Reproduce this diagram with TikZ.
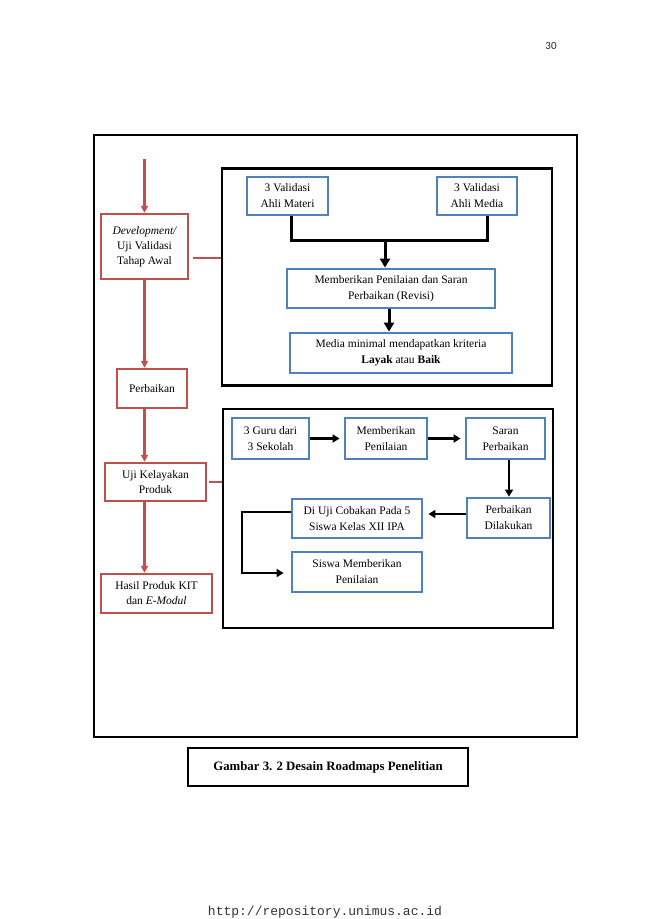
\documentclass[tikz,border=0pt]{standalone}
\usepackage{fontspec}
\setmainfont{Liberation Serif}
\newfontfamily\pgnum{Carlito}
\newfontfamily\footmono{Liberation Mono}
\usetikzlibrary{arrows.meta}
\definecolor{wred}{RGB}{192,80,77}
\definecolor{wblue}{RGB}{79,129,189}
\tikzset{
  redbox/.style={draw=wred, line width=2.4pt, inner sep=0pt, align=center,
    font=\fontsize{11.5}{15}\selectfont},
  bluebox/.style={draw=wblue, line width=2.8pt, inner sep=0pt, align=center,
    font=\fontsize{11.5}{16}\selectfont},
  frame/.style={draw=black, line width=2.4pt},
  redarrow/.style={draw=wred, line width=2.2pt, -{Triangle[length=7pt,width=7pt]}},
  redline/.style={draw=wred, line width=2.2pt},
  blkline/.style={draw=black, line width=3pt},
  blkarrow/.style={draw=black, line width=3pt, -{Triangle[length=9pt,width=10pt]}},
  blkarrowsm/.style={draw=black, line width=2.4pt, -{Triangle[length=7pt,width=8pt]}}
}
\begin{document}
\begin{tikzpicture}[x=1pt,y=-1pt]
\useasboundingbox (0,0) rectangle (650,919);
\fill[white] (0,0) rectangle (650,919);

% page number and footer
\node (pg) at (551,46) {\pgnum\fontsize{11}{12}\selectfont\color{black!85}30};
\node (foot) at (325,912) {\footmono\fontsize{13}{14}\selectfont\color{black!80}http://repository.unimus.ac.id};

% outer frame
\node[frame, minimum width=483pt, minimum height=602pt, inner sep=0pt] (outer) at (335.5,436) {};
% caption
\node[frame, minimum width=280pt, minimum height=38pt, inner sep=0pt,
  font=\fontsize{12.8}{14}\selectfont\bfseries] (cap) at (328,767) {Gambar 3. 2 Desain Roadmaps Penelitian};

% upper and lower black boxes
\node[frame, minimum width=330pt, minimum height=217pt, inner sep=0pt] (up) at (387,277) {};
\node[frame, minimum width=330pt, minimum height=219pt, inner sep=0pt] (low) at (388,518.5) {};

% red column
\coordinate (top) at (144.5,159);
\node[redbox, minimum width=87pt, minimum height=65pt] (dev) at (144.5,246.5)
  {\itshape Development/\\Uji Validasi\\Tahap Awal};
\node[redbox, minimum width=70pt, minimum height=39pt] (perb) at (152,388.5) {Perbaikan};
\node[redbox, minimum width=101pt, minimum height=38pt] (uji) at (155.5,482) {Uji Kelayakan\\Produk};
\node[redbox, minimum width=111pt, minimum height=39pt] (hasil) at (156.5,593.5)
  {Hasil Produk KIT\\dan \textit{E-Modul}};

\draw[redarrow] (top) -- (dev.north);
\draw[redarrow] (dev.south) -- (dev.south |- perb.north);
\draw[redarrow] (dev.south |- perb.south) -- (dev.south |- uji.north);
\draw[redarrow] (dev.south |- uji.south) -- (dev.south |- hasil.north);
\coordinate (c1) at (up.west |- 0,258);
\draw[redline, shorten <=4pt] (dev.east |- c1) -- (c1);
\draw[redline, shorten <=2pt] (uji.east) -- (uji.east -| low.west);

% upper box content
\node[bluebox, minimum width=81pt, minimum height=38pt] (mat) at (287.5,196) {3 Validasi\\Ahli Materi};
\node[bluebox, minimum width=80pt, minimum height=38pt] (med) at (477,196) {3 Validasi\\Ahli Media};
\node[bluebox, minimum width=208pt, minimum height=39pt] (mem) at (391,288.5)
  {Memberikan Penilaian dan Saran\\Perbaikan (Revisi)};
\node[bluebox, minimum width=222pt, minimum height=40pt] (mm) at (401,353)
  {Media minimal mendapatkan kriteria\\\textbf{Layak} atau \textbf{Baik}};
\coordinate (j) at (385,240);
\draw[blkline] ([xshift=4pt]mat.south) |- (j) -| ([xshift=10pt]med.south);
\draw[blkarrow] (j) -- (j |- mem.north);
\draw[blkarrow] (mem.south -| 389,0) -- (mm.north -| 389,0);

% lower box content
\node[bluebox, minimum width=77pt, minimum height=41pt] (guru) at (270.5,438.5) {3 Guru dari\\3 Sekolah};
\node[bluebox, minimum width=82pt, minimum height=41pt] (memp) at (386,438.5) {Memberikan\\Penilaian};
\node[bluebox, minimum width=79pt, minimum height=41pt] (saran) at (505.5,438.5) {Saran\\Perbaikan};
\node[bluebox, minimum width=83pt, minimum height=40pt] (dilak) at (508.5,518) {Perbaikan\\Dilakukan};
\node[bluebox, minimum width=130pt, minimum height=39pt] (diuji) at (357,518.5) {Di Uji Cobakan Pada 5\\Siswa Kelas XII IPA};
\node[bluebox, minimum width=130pt, minimum height=40pt] (siswa) at (357,572) {Siswa Memberikan\\Penilaian};

\draw[blkarrowsm, shorten >=4pt] (guru.east) -- (memp.west);
\draw[blkarrowsm, shorten >=4pt] (memp.east) -- (saran.west);
\draw[blkarrowsm] (saran.south -| 509,0) -- (dilak.north -| 509,0);
\draw[blkarrowsm, shorten >=5pt] ([yshift=4pt]dilak.west) -- ([yshift=4pt]dilak.west -| diuji.east);
\coordinate (e1) at (242,512);
\draw[blkarrowsm, shorten >=7pt] (diuji.west |- e1) -- (e1) |- (siswa.west |- 0,573);
\end{tikzpicture}
\end{document}
